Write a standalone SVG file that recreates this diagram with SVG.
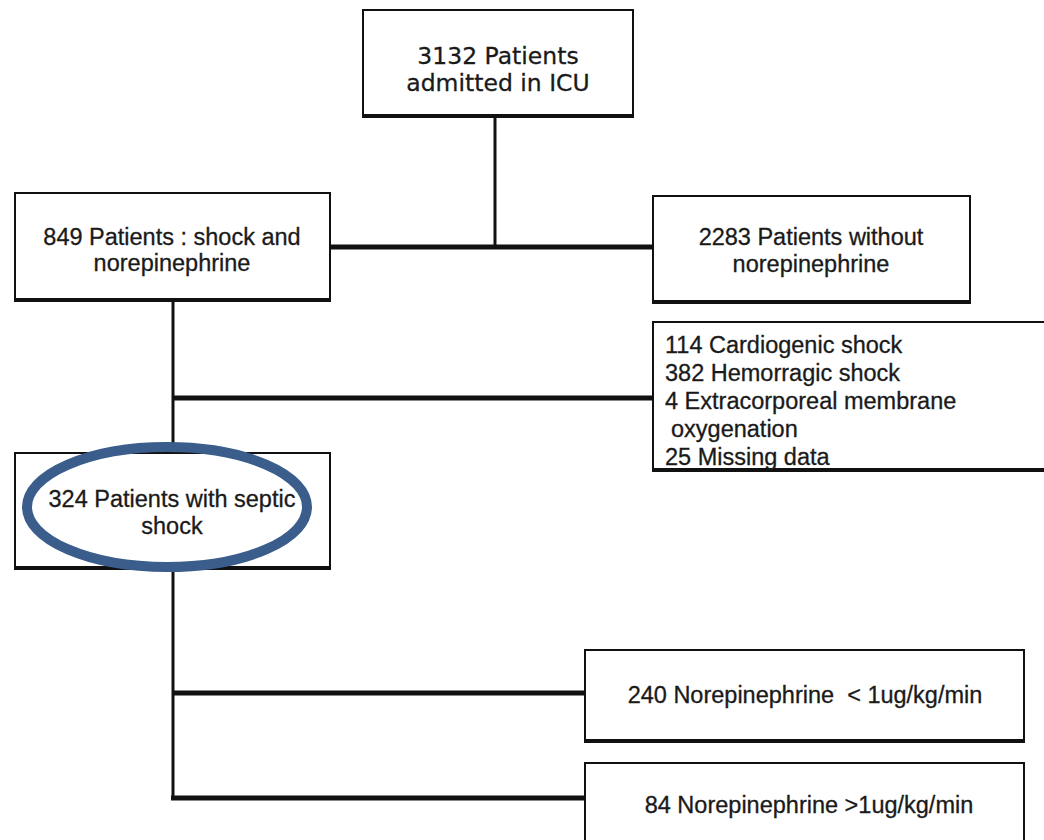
<svg xmlns="http://www.w3.org/2000/svg" width="1044" height="840" viewBox="0 0 1044 840">
<style>
.box{fill:#ffffff;stroke:#111;stroke-width:2}
.shadow{stroke:#111;stroke-width:4;fill:none}
.conn{stroke:#111;fill:none}
.t{font-family:"Liberation Sans",Arial,sans-serif;font-size:23.5px;fill:#1a1a1a;stroke:#1a1a1a;stroke-width:0.3}
.tv{font-family:"DejaVu Sans",Verdana,sans-serif;font-size:23.5px;fill:#1a1a1a;stroke:#1a1a1a;stroke-width:0.3}
</style>
<rect width="1044" height="840" fill="#ffffff"/>
<g id="connectors">
<line class="conn" stroke-width="3" x1="495" y1="116" x2="495" y2="247"/>
<line class="conn" stroke-width="5" x1="330" y1="247" x2="653" y2="247"/>
<line class="conn" stroke-width="3" x1="173" y1="300" x2="173" y2="453"/>
<line class="conn" stroke-width="5" x1="173" y1="398" x2="653" y2="398"/>
<line class="conn" stroke-width="3" x1="173" y1="569" x2="173" y2="800"/>
<line class="conn" stroke-width="5" x1="173" y1="693" x2="585" y2="693"/>
<line class="conn" stroke-width="5" x1="171" y1="798" x2="585" y2="798"/>
</g>
<g id="n_icu">
<rect class="box" x="363" y="10" width="270" height="106"/>
<line class="shadow" x1="362" y1="116" x2="634" y2="116"/>
<text class="tv" x="498" y="64" text-anchor="middle">3132 Patients</text>
<text class="tv" x="498" y="91" text-anchor="middle">admitted in ICU</text>
</g>
<g id="n_shock">
<rect class="box" x="15" y="193" width="315" height="107"/>
<line class="shadow" x1="14" y1="300" x2="331" y2="300"/>
<text class="t" x="172" y="245" text-anchor="middle">849 Patients : shock and</text>
<text class="t" x="172" y="271" text-anchor="middle">norepinephrine</text>
</g>
<g id="n_without">
<rect class="box" x="653" y="196" width="317" height="106"/>
<line class="shadow" x1="652" y1="302" x2="971" y2="302"/>
<text class="t" x="811" y="245" text-anchor="middle">2283 Patients without</text>
<text class="t" x="811" y="272" text-anchor="middle">norepinephrine</text>
</g>
<g id="n_excluded">
<rect class="box" x="653" y="322" width="400" height="148"/>
<line class="shadow" x1="652" y1="470" x2="1050" y2="470"/>
<text class="t" x="665" y="353">114 Cardiogenic shock</text>
<text class="t" x="665" y="381">382 Hemorragic shock</text>
<text class="t" x="665" y="409">4 Extracorporeal membrane</text>
<text class="t" x="671" y="437">oxygenation</text>
<text class="t" x="665" y="465">25 Missing data</text>
</g>
<g id="n_septic">
<rect class="box" x="15" y="453" width="315" height="115"/>
<line class="shadow" x1="14" y1="568" x2="331" y2="568"/>
<text class="t" x="172" y="507" text-anchor="middle">324 Patients with septic</text>
<text class="t" x="172" y="534" text-anchor="middle">shock</text>
<ellipse cx="167" cy="507" rx="140" ry="60" fill="none" stroke="#3a5d8c" stroke-width="10"/>
</g>
<g id="n_low">
<rect class="box" x="585" y="650" width="439" height="91"/>
<line class="shadow" x1="584" y1="741" x2="1025" y2="741"/>
<text class="t" x="805" y="703" text-anchor="middle" xml:space="preserve">240 Norepinephrine  &lt; 1ug/kg/min</text>
</g>
<g id="n_high">
<rect class="box" x="585" y="763" width="439" height="90"/>
<text class="t" x="809" y="813" text-anchor="middle">84 Norepinephrine &gt;1ug/kg/min</text>
</g>
</svg>
